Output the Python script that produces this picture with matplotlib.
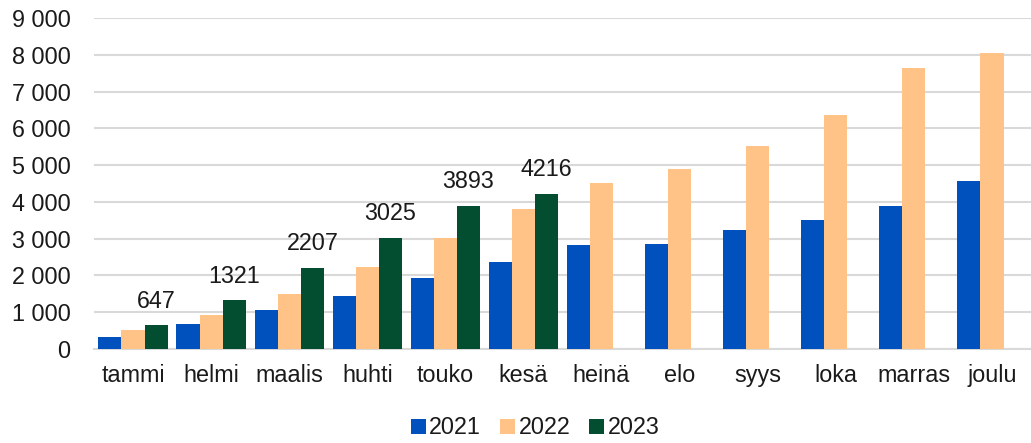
import matplotlib
matplotlib.use("Agg")
import matplotlib.pyplot as plt
import numpy as np
from matplotlib.ticker import FuncFormatter, MultipleLocator
from matplotlib.patches import Patch

months = ["tammi", "helmi", "maalis", "huhti", "touko", "kesä", "heinä",
          "elo", "syys", "loka", "marras", "joulu"]
v2021 = [330, 680, 1060, 1440, 1930, 2360, 2830, 2850, 3230, 3500, 3890, 4560]
v2022 = [520, 915, 1500, 2240, 3010, 3800, 4510, 4900, 5530, 6360, 7640, 8040]
v2023 = [647, 1321, 2207, 3025, 3893, 4216, np.nan, np.nan, np.nan, np.nan, np.nan, np.nan]
series_labels = ["2021", "2022", "2023"]
colors = ["#0050BE", "#FFC388", "#034D30"]

plt.rcParams['font.family'] = ['Liberation Sans', 'DejaVu Sans']
fs = 16.8

fig = plt.figure(figsize=(10.31, 4.43), dpi=100)
ax = fig.add_axes([94/1031, (443-349)/443, 1 - 94/1031, (349-18)/443])

x = np.arange(len(months))
bw = 0.296
for i, (vals, c) in enumerate(zip([v2021, v2022, v2023], colors)):
    pos = x + (i - 1) * bw
    ax.bar(pos, vals, width=bw, color=c, zorder=3)
    if i == 2:
        for p, v in zip(pos, vals):
            if not np.isnan(v):
                ax.annotate(f"{int(v)}", (p, v), xytext=(0, 9), textcoords="offset points",
                            ha="center", va="bottom", fontsize=fs, color="#1a1a1a")

ax.set_xlim(-0.5, len(months) - 0.5)
ax.set_ylim(0, 9000)
ax.yaxis.set_major_locator(MultipleLocator(1000))
ax.yaxis.set_major_formatter(FuncFormatter(lambda v, p: f"{int(v):,}".replace(",", " ")))
ax.set_xticks(x)
ax.set_xticklabels(months)
ax.tick_params(axis="both", length=0, labelsize=fs, colors="#1a1a1a")
ax.tick_params(axis="y", pad=17)
ax.tick_params(axis="x", pad=11)
ax.grid(axis="y", color="#D9D9D9", linewidth=1.5, zorder=0)
for s in ["top", "right", "left"]:
    ax.spines[s].set_visible(False)
ax.spines["bottom"].set_color("#D9D9D9")
ax.spines["bottom"].set_linewidth(1.5)

handles = [Patch(facecolor=c, label=l) for c, l in zip(colors, series_labels)]
fig.legend(handles=handles, loc="center", bbox_to_anchor=(535/1031, 15/443), ncol=3,
           frameon=False, fontsize=fs, handlelength=0.65, handleheight=0.65,
           handletextpad=0.15, columnspacing=0.8, labelcolor="#1a1a1a",
           borderpad=0, borderaxespad=0)

fig.savefig("out.png", dpi=100)
